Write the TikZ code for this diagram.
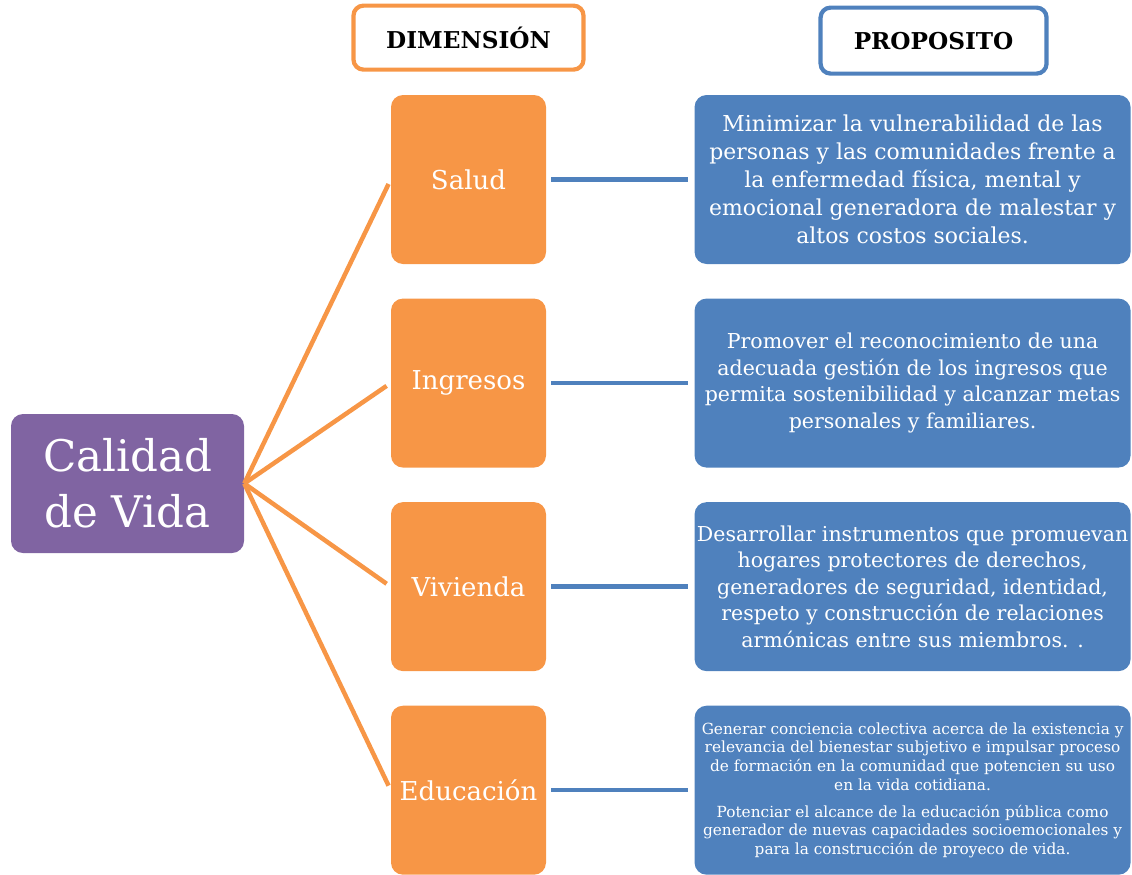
\documentclass[tikz,border=0pt]{standalone}
\usepackage{fontspec}
\setmainfont{DejaVu Serif}
\usepackage{xcolor}
\usetikzlibrary{positioning}

\definecolor{dimorange}{HTML}{F79646}
\definecolor{propblue}{HTML}{4F81BD}
\definecolor{calpurple}{HTML}{8064A2}

\begin{document}
\begin{tikzpicture}[
    node distance=0.85cm and 3.7cm,
    mainbox/.style={
        rectangle, fill=calpurple, rounded corners=0.3cm, text=white,
        align=center, minimum width=5.825cm, minimum height=3.475cm,
        font=\fontsize{31}{40}\selectfont
    },
    dimbox/.style={
        rectangle, fill=dimorange, rounded corners=0.3cm, text=white,
        align=center, minimum width=3.875cm, minimum height=4.225cm,
        font=\fontsize{18.5}{22}\selectfont
    },
    propbox/.style={
        rectangle, fill=propblue, rounded corners=0.3cm, text=white,
        align=center, minimum width=10.9cm, minimum height=4.225cm,
        inner sep=1pt, font=\fontsize{15.6}{19.9}\selectfont
    },
    headbox/.style={
        rectangle, line width=3pt, fill=white, rounded corners=0.25cm,
        font=\bfseries\fontsize{16.5}{19}\selectfont
    },
    dimline/.style={draw=dimorange, line width=3.2pt, shorten >=0.125cm},
    propline/.style={draw=propblue, line width=3.2pt, shorten <=0.125cm, shorten >=0.15cm}
]
\useasboundingbox (0,0) rectangle (28.3,-21.85);

% Center
\node[mainbox] (calidad) at (3.1875,-12.0875) {Calidad\\de Vida};

% Dimensions
\node[dimbox] (salud) at (11.7125,-4.4875) {Salud};
\node[dimbox, below=of salud] (ingresos) {Ingresos};
\node[dimbox, below=of ingresos] (vivienda) {Vivienda};
\node[dimbox, below=of vivienda] (educacion) {Educación};

% Purposes
\node[propbox, right=of salud] (pSalud) {
    Minimizar la vulnerabilidad de las\\
    personas y las comunidades frente a\\
    la enfermedad física, mental y\\
    emocional generadora de malestar y\\
    altos costos sociales.
};
\node[propbox, right=of ingresos, font=\fontsize{14.6}{18.9}\selectfont] (pIngresos) {
    Promover el reconocimiento de una\\
    adecuada gestión de los ingresos que\\
    permita sostenibilidad y alcanzar metas\\
    personales y familiares.
};
\node[propbox, right=of vivienda, font=\fontsize{14.6}{18.9}\selectfont] (pVivienda) {
    Desarrollar instrumentos que promuevan\\
    hogares protectores de derechos,\\
    generadores de seguridad, identidad,\\
    respeto y construcción de relaciones\\
    armónicas entre sus miembros. .
};
\node[propbox, right=of educacion, font=\fontsize{10.9}{13.2}\selectfont] (pEducacion) {
    Generar conciencia colectiva acerca de la existencia y\\
    relevancia del bienestar subjetivo e impulsar proceso\\
    de formación en la comunidad que potencien su uso\\
    en la vida cotidiana.\\[6pt]
    Potenciar el alcance de la educación pública  como\\
    generador de nuevas capacidades socioemocionales y\\
    para la construcción de proyeco de vida.
};

% Headers
\node[headbox, draw=dimorange, minimum width=5.75cm, minimum height=1.6cm,
      above=0.575cm of salud] (dimension) {DIMENSIÓN};
\node[headbox, draw=propblue, minimum width=5.65cm, minimum height=1.65cm,
      above=0.475cm of pSalud, xshift=0.525cm] (proposito) {PROPOSITO};

% Lines
\foreach \d in {salud, ingresos, vivienda, educacion}
    \draw[dimline] (calidad.east) -- (\d.west);
\draw[propline] (salud)     -- (pSalud);
\draw[propline] (ingresos)  -- (pIngresos);
\draw[propline] (vivienda)  -- (pVivienda);
\draw[propline] (educacion) -- (pEducacion);

\end{tikzpicture}
\end{document}
